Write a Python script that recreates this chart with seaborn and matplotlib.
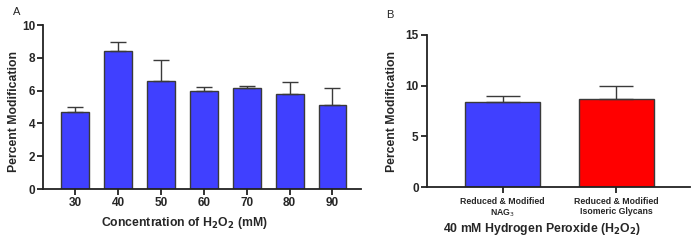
import numpy as np
import pandas as pd
import seaborn as sns
import matplotlib.pyplot as plt

sns.set_style('ticks')
plt.rcParams['font.family'] = ['Liberation Sans', 'DejaVu Sans']

# panel A : H2O2 농도별
conc = ['30', '40', '50', '60', '70', '80', '90']
mod_a = [4.70, 8.44, 6.57, 5.95, 6.15, 5.78, 5.12]
err_a = [0.33, 0.54, 1.32, 0.26, 0.14, 0.74, 1.06]

# panel B : 40 mM
groups = ['Reduced & Modified\nNAG$_3$', 'Reduced & Modified\nIsomeric Glycans']
mod_b = [8.42, 8.65]
err_b = [0.52, 1.31]

blue = '#4040ff'
red = '#ff0000'
edge = '#3a3a3a'

fig = plt.figure(figsize=(7, 2.43), dpi=100)
ax1 = fig.add_axes([0.062, 0.222, 0.454, 0.675])
ax2 = fig.add_axes([0.610, 0.230, 0.376, 0.626])

df_a = pd.DataFrame({'conc': conc, 'mod': mod_a})
sns.barplot(data=df_a, x='conc', y='mod', color=blue, saturation=1, width=0.65,
            edgecolor=edge, linewidth=1, errorbar=None, ax=ax1)
xs = [p.get_x() + p.get_width() / 2 for p in ax1.patches]
ax1.errorbar(xs, mod_a, yerr=[np.zeros(len(err_a)), err_a], fmt='none',
             ecolor=edge, elinewidth=1, capsize=5.5, capthick=1)

df_b = pd.DataFrame({'grp': groups, 'mod': mod_b})
sns.barplot(data=df_b, x='grp', y='mod', hue='grp', palette=[blue, red], saturation=1,
            width=0.66, edgecolor=edge, linewidth=1, errorbar=None, legend=False, ax=ax2)
xs = [p.get_x() + p.get_width() / 2 for p in ax2.patches if p.get_height() > 0]
ax2.errorbar(xs, mod_b, yerr=[np.zeros(len(err_b)), err_b], fmt='none',
             ecolor=edge, elinewidth=1, capsize=12.5, capthick=1)

ax1.set_ylim(0, 10)
ax1.set_yticks([0, 2, 4, 6, 8, 10])
ax1.set_xlim(-0.74, 6.67)
ax1.set_xlabel('Concentration of H$_\\mathbf{2}$O$_\\mathbf{2}$ (mM)', fontsize=8.8, fontweight='bold')
ax1.set_ylabel('Percent Modification', fontsize=8.8, fontweight='bold')
ax1.xaxis.set_label_coords(0.443, -0.16)
ax1.yaxis.set_label_coords(-0.075, 0.47)

ax2.set_ylim(0, 15)
ax2.set_yticks([0, 5, 10, 15])
ax2.set_xlim(-0.665, 1.65)
ax2.set_xlabel('40 mM Hydrogen Peroxide (H$_\\mathbf{2}$O$_\\mathbf{2}$)', fontsize=8.8,
               fontweight='bold')
ax2.set_ylabel('Percent Modification', fontsize=8.8, fontweight='bold')
ax2.xaxis.set_label_coords(0.437, -0.225)
ax2.yaxis.set_label_coords(-0.11, 0.5)

for ax in (ax1, ax2):
    sns.despine(ax=ax)
    for s in ('left', 'bottom'):
        ax.spines[s].set_linewidth(1.3)
        ax.spines[s].set_color('#222222')
    ax.tick_params(width=1.3, length=4, pad=2, color='#222222', labelsize=8.5)
    for t in ax.get_yticklabels() + ax.get_xticklabels():
        t.set_fontweight('bold')
ax2.tick_params(axis='x', labelsize=6.3, pad=3)

fig.text(0.019, 0.95, 'A', fontsize=8, va='center')
fig.text(0.551, 0.938, 'B', fontsize=8, va='center')

plt.savefig('out.png', dpi=100)
